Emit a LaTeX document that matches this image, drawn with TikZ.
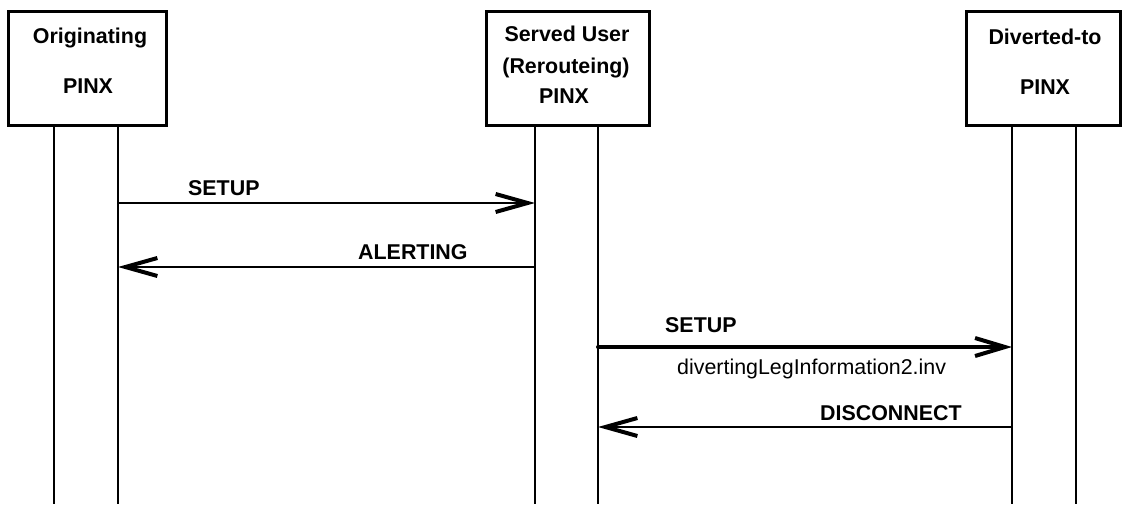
\documentclass[tikz,border=0pt]{standalone}
\usepackage{fontspec}
\setmainfont{Liberation Sans}
\usetikzlibrary{arrows.meta}
\begin{document}
\begin{tikzpicture}[x=1pt,y=-1pt,
  box/.style={draw, line width=2.5pt, inner sep=0pt, anchor=north west, minimum height=114pt},
  life/.style={line width=2pt},
  lbl/.style={font=\fontsize{21.4}{25}\selectfont\bfseries, inner sep=0pt, anchor=base},
  mlbl/.style={font=\fontsize{21.4}{25}\selectfont\bfseries, inner sep=0pt, anchor=base west},
  plbl/.style={font=\fontsize{21.4}{25}\selectfont, inner sep=0pt, anchor=base west},
  msg/.style={line width=2pt, -{Straight Barb[length=32pt,width=18pt,line width=4pt]}},
  thickmsg/.style={line width=4pt, line cap=round, -{Straight Barb[length=30pt,width=18pt,line width=4pt]}}]
\useasboundingbox (0,0) rectangle (1122,504);
% boxes
\node[box, minimum width=158pt] (B1) at (7,10) {};
\node[box, minimum width=163pt] (B2) at (485,10) {};
\node[box, minimum width=154pt] (B3) at (965,10) {};
% box texts
\node[lbl] (t1a) at (90,43) {Originating};
\node[lbl] (t1b) at (88,93) {PINX};
\node[lbl] (t2a) at (567,41) {Served User};
\node[lbl] (t2b) at (566,73) {(Rerouteing)};
\node[lbl] (t2c) at (564,103) {PINX};
\node[lbl] (t3a) at (1045,44) {Diverted-to};
\node[lbl] (t3b) at (1045,94) {PINX};
% lifelines
\coordinate (L1a) at (54,124); \coordinate (L1b) at (118,124);
\coordinate (L2a) at (535,124); \coordinate (L2b) at (598,124);
\coordinate (L3a) at (1012,124); \coordinate (L3b) at (1076,124);
\coordinate (bot) at (0,504);
\foreach \l in {L1a,L1b,L2a,L2b,L3a,L3b} \draw[life] (\l) -- (\l |- bot);
% message rows
\coordinate (r1) at (0,203);
\coordinate (r2) at (0,267);
\coordinate (r3) at (0,347);
\coordinate (r4) at (0,427);
\draw[msg] (L1b |- r1) -- (L2a |- r1);
\draw[msg] (L2a |- r2) -- (L1b |- r2);
\draw[thickmsg] (L2b |- r3) -- (L3a |- r3);
\draw[msg] (L3a |- r4) -- (L2b |- r4);
% labels
\node[mlbl] (m1) at (188,195) {SETUP};
\node[mlbl] (m2) at (358,259) {ALERTING};
\node[mlbl] (m3) at (665,332) {SETUP};
\node[plbl] (m3b) at (677,374) {divertingLegInformation2.inv};
\node[mlbl] (m4) at (820,420) {DISCONNECT};
\end{tikzpicture}
\end{document}
